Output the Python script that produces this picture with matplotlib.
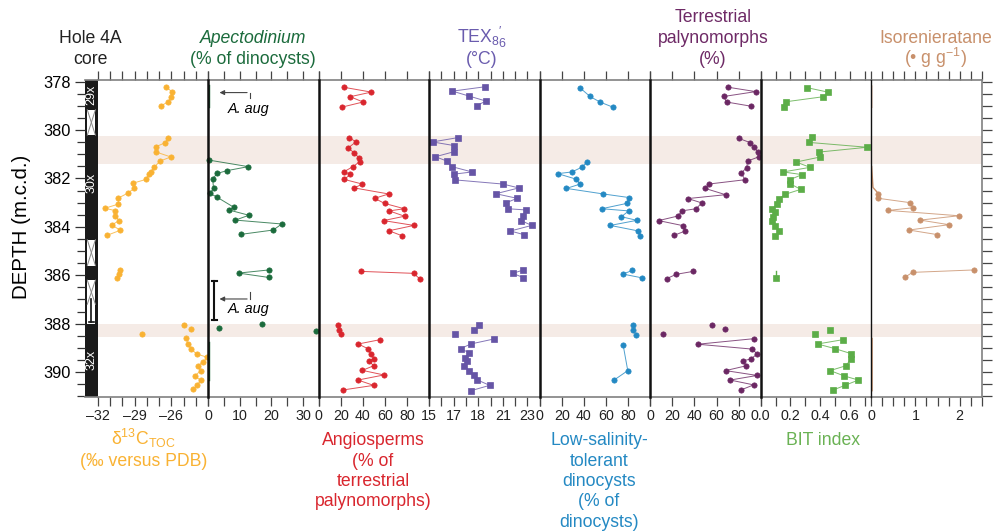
import numpy as np
import matplotlib
matplotlib.use('Agg')
import matplotlib.pyplot as plt
from matplotlib.patches import Rectangle

plt.rcParams['font.family'] = ['Liberation Sans', 'DejaVu Sans']
plt.rcParams['mathtext.fontset'] = 'custom'
plt.rcParams['mathtext.rm'] = 'Liberation Sans'
plt.rcParams['mathtext.it'] = 'Liberation Sans:italic'
plt.rcParams['mathtext.default'] = 'regular'

nan = np.nan

### Data (depth in m.c.d., nan breaks the line between sample groups)
d13c_depth = [378.23, 378.41, 378.62, 378.83, 379.00, nan,
              380.31, 380.52, 380.69, 380.91, 381.11, 381.28, 381.54, 381.72, 381.82, 382.04, 382.20,
              382.41, 382.61, 382.81, 383.06, 383.23, 383.33, 383.55, 383.74, 383.92, 384.14, 384.35, nan,
              385.80, 385.96, 386.13, nan,
              388.06, nan, 388.22, nan, 388.44, nan,
              388.61, 388.84, 389.05, 389.25, 389.39, 389.57, 389.74, 389.96, 390.15, 390.34, 390.53, 390.71]
d13c_value = [-26.40, -25.97, -26.00, -26.24, -26.86, nan,
              -26.24, -26.49, -27.27, -27.22, -26.05, -26.92, -27.41, -27.68, -27.81, -28.08, -29.16,
              -29.03, -29.57, -30.32, -30.32, -31.41, -30.57, -30.57, -30.24, -30.86, -30.16, -31.24, nan,
              -30.19, -30.30, -30.43, nan,
              -24.97, nan, -24.43, nan, -28.41, nan,
              -24.78, -24.65, -24.38, -23.95, -23.08, -23.41, -23.84, -23.62, -24.11, -23.62, -23.89, -24.22]

apect_depth = [381.24, 381.51, 381.68, 381.79, 382.01, 382.41, 382.61, 382.78, 383.19, 383.30, 383.52,
               383.72, 383.88, 384.13, 384.31, nan,
               385.78, 385.91, 386.09, nan,
               388.03, nan, 388.19, nan, 388.32]
apect_value = [0.2, 12.7, 5.8, 2.9, 1.4, 1.7, 0.5, 2.9, 8.1, 6.5, 12.9,
               8.6, 23.3, 20.6, 10.3, nan,
               19.2, 9.6, 19.2, nan,
               17.0, nan, 3.5, nan, 34.2]
apect_zero_depth = [378.14, 379.03, nan, 388.74, 390.33]
apect_zero_value = [0.3, 0.3, nan, 0.3, 0.3]

angio_depth = [378.23, 378.43, 378.62, 378.84, 379.05, nan,
               380.31, 380.49, 380.73, 380.93, 381.14, 381.31, 381.51, 381.72, 381.83, 382.04, 382.23,
               382.39, 382.64, 382.82, 383.03, 383.25, 383.34, 383.56, 383.74, 383.94, 384.16, 384.36, nan,
               385.84, 385.92, 386.14, nan,
               388.06, nan, 388.25, nan, 388.44, nan,
               388.66, 388.84, 389.03, 389.25, 389.45, 389.54, 389.74, 389.93, 390.12, 390.33, 390.55, 390.74]
angio_value = [22.6, 47.6, 28.6, 40.1, 21.1, nan,
               27.7, 33.7, 26.8, 31.6, 36.4, 37.0, 31.0, 22.9, 28.6, 23.2, 39.5,
               32.2, 63.3, 50.6, 59.6, 77.4, 63.9, 77.7, 58.7, 86.1, 63.6, 75.0, nan,
               38.6, 85.8, 91.3, nan,
               17.5, nan, 18.7, nan, 20.2, nan,
               55.7, 35.8, 44.3, 47.3, 50.0, 45.5, 49.7, 39.5, 59.0, 35.5, 49.7, 22.0]

tex_depth = [378.21, 378.39, 378.59, 378.80, 378.99, nan,
             380.31, 380.49, 380.64, 380.89, 381.10, 381.29, 381.51, 381.73, 381.82, 382.06, 382.23,
             382.39, 382.63, 382.82, 383.01, 383.25, 383.30, 383.54, 383.74, 383.94, 384.17, 384.32, nan,
             385.78, 385.92, 386.10, nan,
             388.04, nan, 388.25, nan, 388.41, nan,
             388.63, 388.84, 389.03, 389.21, 389.40, 389.54, 389.74, 389.94, 390.14, 390.31, 390.55, 390.77]
tex_value = [19.54, 16.89, 18.22, 19.62, 18.86, nan,
             17.35, 15.27, 17.03, 17.05, 15.51, 16.49, 16.84, 18.49, 17.03, 17.14, 21.00,
             22.30, 20.43, 22.16, 21.24, 21.41, 22.86, 22.65, 22.49, 23.35, 21.62, 22.70, nan,
             22.68, 21.81, 22.68, nan,
             19.03, nan, 18.65, nan, 17.14, nan,
             20.30, 18.38, 17.57, 18.27, 17.89, 18.08, 17.86, 18.22, 18.68, 18.86, 19.92, 18.40]

lowsal_depth = [378.25, 378.61, 378.84, 379.05, nan,
                381.32, 381.54, 381.73, 381.80, 382.02, 382.23, 382.41, 382.64, 382.79, 383.03, 383.25,
                383.34, 383.58, 383.73, 383.94, 384.17, 384.36, nan,
                385.80, 385.95, 386.11, nan,
                388.06, nan, 388.26, nan, 388.45, nan,
                388.88, 389.94, 390.33]
lowsal_value = [36.4, 45.5, 54.5, 66.1, nan,
                42.7, 37.9, 29.1, 16.4, 32.4, 36.7, 24.2, 57.6, 81.2, 78.8, 56.1,
                80.6, 73.9, 87.9, 63.9, 89.4, 91.2, nan,
                83.9, 75.2, 93.0, nan,
                84.5, nan, 84.5, nan, 87.0, nan,
                75.5, 79.7, 67.3]

terr_depth = [378.23, 378.41, 378.61, 378.84, 379.01, nan,
              380.34, 380.52, 380.71, 380.89, 381.10, 381.28, 381.55, 381.79, 382.05, 382.23, 382.41,
              382.67, 382.83, 383.01, 383.25, 383.34, 383.55, 383.74, 383.95, 384.17, 384.35, nan,
              385.84, 385.96, 386.14, nan,
              388.07, nan, 388.23, nan, 388.42, nan,
              388.62, 388.85, 389.05, 389.25, 389.46, 389.54, 389.74, 389.94, 390.14, 390.33, 390.53, 390.74]
terr_value = [70.6, 95.5, 66.7, 69.1, 90.9, nan,
              80.0, 90.6, 93.9, 97.3, 98.5, 88.2, 87.3, 82.1, 86.1, 53.0, 49.7,
              68.2, 34.2, 46.7, 41.5, 28.5, 25.2, 7.6, 29.7, 31.8, 21.5, nan,
              38.8, 23.6, 14.8, nan,
              56.1, nan, 67.9, nan, 11.2, nan,
              93.9, 43.0, 92.1, 97.0, 90.9, 83.6, 87.0, 68.2, 96.7, 72.4, 93.6, 82.1]

bit_depth = [378.25, 378.43, 378.62, 378.83, 379.03, nan,
             380.29, 380.51, 380.71, 380.91, 381.11, 381.32, 381.54, 381.73, 381.84, 382.05, 382.21,
             382.45, 382.66, 382.85, 383.06, 383.25, 383.37, 383.58, 383.74, 383.95, 384.18, 384.38, nan,
             386.13, nan,
             388.25, nan, 388.44, nan,
             388.66, 388.84, 389.03, 389.24, 389.45, 389.74, 389.94, 390.16, 390.33, 390.55, 390.74]
bit_value = [0.315, 0.453, 0.423, 0.169, 0.160, nan,
             0.347, 0.327, 0.718, 0.390, 0.403, 0.239, 0.333, 0.151, 0.279, 0.196, 0.196,
             0.270, 0.162, 0.124, 0.110, 0.077, 0.097, 0.081, 0.074, 0.097, 0.126, 0.097, nan,
             0.100, nan,
             0.464, nan, 0.369, nan,
             0.556, 0.383, 0.500, 0.610, 0.610, 0.574, 0.468, 0.563, 0.658, 0.568, 0.489]
bit_stub_depth = [385.82, 386.13]
bit_stub_value = [0.100, 0.100]

iso_depth = [382.63, 382.82, 383.00, 383.21, 383.32, 383.54, 383.72, 383.91, 384.13, 384.32, nan,
             385.78, 385.88, 386.07]
iso_value = [0.165, 0.165, 0.883, 0.943, 0.389, 1.980, 1.108, 1.760, 0.853, 1.497, nan,
             2.320, 0.936, 0.771]
iso_stub_depth = [378.18, 379.06, nan, 381.51, 382.37, 382.63, nan, 388.61, 390.77]
iso_stub_value = [0.01, 0.01, nan, 0.01, 0.04, 0.165, nan, 0.02, 0.02]

# core recovery: gaps (no core) and core labels
core_gap_top = [379.16, 384.53, 386.20]
core_gap_bottom = [380.21, 385.60, 388.00]
core_names = ['29x', '30x', '32x']
core_name_depth = [378.55, 382.20, 389.50]

band_top = [380.25, 388.00]
band_bottom = [381.40, 388.55]

### Layout
W, H = 995, 532
TOP, BOT = 80, 396.5
DEPTH_TOP, DEPTH_BOT = 377.93, 391.01
edges = [97.7 + 110.5 * i for i in range(9)]
BAND = '#f5ebe6'
GREY = '#808080'

fig = plt.figure(figsize=(W / 100, H / 100), dpi=100)


def px_ax(x0, x1):
    return fig.add_axes([x0 / W, 1 - BOT / H, (x1 - x0) / W, (BOT - TOP) / H])


def fig_lines(x, baselines, lines, color, size=12.7, style='normal'):
    for y, line in zip(baselines, lines):
        fig.text(x / W, 1 - y / H, line, color=color, fontsize=size, ha='center',
                 va='baseline', style=style)


### Core column
core = px_ax(85, edges[0])
core.set_xlim(0, 1)
core.set_ylim(DEPTH_BOT, DEPTH_TOP)
core.add_patch(Rectangle((0, DEPTH_TOP), 1, DEPTH_BOT - DEPTH_TOP, fc='#1a1a1a', ec='none'))
for i, (g0, g1) in enumerate(zip(core_gap_top, core_gap_bottom)):
    core.add_patch(Rectangle((0.18, g0), 0.64, g1 - g0, fc='white', ec='none', zorder=2))
    x_end = g1 if i < 2 else g0 + 1.0
    core.plot([0.18, 0.82], [g0, x_end], color='#888', lw=0.7, zorder=3)
    core.plot([0.82, 0.18], [g0, x_end], color='#888', lw=0.7, zorder=3)
    if i == 2:
        core.plot([0.5, 0.5], [x_end - 0.2, g1 - 0.05], color='#111', lw=1.2, zorder=3)
        core.plot([0.3, 0.7], [g1 - 0.05, g1 - 0.05], color='#111', lw=1.2, zorder=3)
for name, d in zip(core_names, core_name_depth):
    core.text(0.5, d, name, color='white', fontsize=9, rotation=90, ha='center', va='center')
core.set_xticks([])
core.set_yticks(range(378, 391, 2))
core.set_yticks(np.arange(378, 391.01, 0.5), minor=True)
core.tick_params(axis='y', which='major', direction='out', length=7.2, width=0.9,
                 color='#333', labelsize=11.8, pad=3)
core.tick_params(axis='y', which='minor', direction='out', length=5.5, width=0.9, color='#333')
for s in ['left', 'right']:
    core.spines[s].set_visible(False)
for s in ['top', 'bottom']:
    core.spines[s].set_color(GREY)
    core.spines[s].set_linewidth(1.2)

fig.text(22 / W, 1 - 227 / H, 'DEPTH (m.c.d.)', rotation=90, fontsize=14.8,
         ha='center', va='center')

### Data panels
panels = [
    (d13c_value, d13c_depth, '#f9b233', 'o', (-32, -23), list(range(-32, -22)),
     {-32: '\u201332', -29: '\u201329', -26: '\u201326'}),
    (apect_value, apect_depth, '#1b6b3c', 'o', (0, 35), list(range(0, 36, 5)),
     {0: '0', 10: '10', 20: '20', 30: '30'}),
    (angio_value, angio_depth, '#d9262e', 'o', (0, 100), list(range(0, 101, 20)),
     {0: '0', 20: '20', 40: '40', 60: '60', 80: '80'}),
    (tex_value, tex_depth, '#6655a6', 's', (15, 24), list(range(15, 25)),
     {15: '15', 17: '17', 19: '18', 21: '21', 23: '23'}),
    (lowsal_value, lowsal_depth, '#2489c3', 'o', (0, 100), list(range(0, 101, 20)),
     {0: '0', 20: '20', 40: '40', 60: '60', 80: '80'}),
    (terr_value, terr_depth, '#6b2763', 'o', (0, 100), list(range(0, 101, 20)),
     {0: '0', 20: '20', 40: '40', 60: '60', 80: '80'}),
    (bit_value, bit_depth, '#5cad48', 's', (0, 0.745), [round(0.1 * k, 1) for k in range(8)],
     {0.0: '0.0', 0.2: '0.2', 0.4: '0.4', 0.6: '0.6'}),
    (iso_value, iso_depth, '#c8906b', 'o', (0, 2.5), [0.25 * k for k in range(11)],
     {0: '0', 1: '1', 2: '2'}),
]

axes = []
for i, (vals, deps, color, marker, xlim, ticks, labels) in enumerate(panels):
    ax = px_ax(edges[i], edges[i + 1])
    axes.append(ax)
    ax.set_xlim(*xlim)
    ax.set_ylim(DEPTH_BOT, DEPTH_TOP)
    for b0, b1 in zip(band_top, band_bottom):
        ax.axhspan(b0, b1, color=BAND, lw=0, zorder=0)
    ms = 4.2 if marker == 's' else 3.8
    ax.plot(vals, deps, color=color, lw=0.7, alpha=0.8, zorder=2, clip_on=False)
    ax.plot(vals, deps, ls='none', marker=marker, ms=ms, color=color, mec=color,
            mew=0.5, zorder=3, clip_on=False)
    ax.set_xticks(ticks)
    ax.set_xticklabels([labels.get(t, '') for t in ticks])
    ax.tick_params(axis='x', which='both', top=True, bottom=True, labeltop=False,
                   direction='out', length=6.5, width=0.9, color='#444',
                   labelsize=10.3, pad=2.8, labelcolor='#222')
    ax.set_yticks([])
    for s in ['top', 'bottom']:
        ax.spines[s].set_color(GREY)
        ax.spines[s].set_linewidth(1.2)
    ax.spines['right'].set_visible(False)
    if i == 0:
        ax.spines['left'].set_visible(False)
    elif i == 7:
        ax.spines['left'].set_linewidth(1.0)
        ax.spines['left'].set_color('#111')
    else:
        ax.spines['left'].set_linewidth(1.8)
        ax.spines['left'].set_color('#111')
    ax.spines['left'].set_zorder(4)

# lines without markers
axes[1].plot(apect_zero_value, apect_zero_depth, color='#1b6b3c', lw=1.0, zorder=2)
axes[6].plot(bit_stub_value, bit_stub_depth, color='#5cad48', lw=1.0, zorder=2)
axes[7].plot(iso_stub_value, iso_stub_depth, color='#c8906b', lw=1.0, zorder=2)

# right-hand depth ticks
last = axes[7]
last.spines['right'].set_visible(True)
last.spines['right'].set_color(GREY)
last.spines['right'].set_linewidth(1.2)
last.yaxis.set_ticks_position('right')
last.set_yticks(np.arange(378, 391.01, 0.5))
last.tick_params(axis='y', direction='out', length=7.2, width=0.9, color='#444',
                 labelright=False)

# Apectodinium augustum markers
ap = axes[1]
ap.annotate('', xy=(2.7, 378.45), xytext=(13.2, 378.45),
            arrowprops=dict(arrowstyle='-|>', color='#444', lw=0.8, mutation_scale=7))
ap.plot([13.2, 13.2], [378.45, 378.67], color='#444', lw=0.8)
ap.text(12.9, 379.12, 'A. aug', style='italic', fontsize=10.4, ha='center', va='center')
ap.annotate('', xy=(2.7, 386.98), xytext=(13.2, 386.98),
            arrowprops=dict(arrowstyle='-|>', color='#444', lw=0.8, mutation_scale=7))
ap.plot([13.2, 13.2], [386.68, 386.98], color='#444', lw=0.8)
ap.text(12.9, 387.39, 'A. aug', style='italic', fontsize=10.4, ha='center', va='center')
ap.plot([1.9, 1.9], [386.24, 387.85], color='#111', lw=1.5)
ap.plot([1.1, 2.7], [386.24, 386.24], color='#111', lw=1.5)
ap.plot([1.1, 2.7], [387.85, 387.85], color='#111', lw=1.5)

### Titles
fig_lines(90, [43, 63.5], ['Hole 4A', 'core'], '#222')
fig_lines(253, [43], ['Apectodinium'], '#1b6b3c', style='italic')
fig_lines(253, [63.5], ['(% of dinocysts)'], '#1b6b3c')
fig_lines(482, [43, 63.5], ['TEX$_{8}{}_{6}^{\\prime}$', '(\u00b0C)'], '#6a5cae')
fig_lines(713, [22.5, 43, 63.5], ['Terrestrial', 'palynomorphs', '(%)'], '#6e2a66')
fig_lines(936, [43, 63.5], ['Isorenieratane', '(\u2022 g g$^{-1}$)'], '#c8906b')

bl = [445 + 20.5 * k for k in range(5)]
fig_lines(143.5, bl[:2], ['\u03b4$^{13}$C$_{TOC}$', '(\u2030 versus PDB)'], '#f9b233')
fig_lines(373, bl[:4], ['Angiosperms', '(% of', 'terrestrial', 'palynomorphs)'], '#d9262e')
fig_lines(599, bl, ['Low-salinity-', 'tolerant', 'dinocysts', '(% of', 'dinocysts)'], '#2489c3')
fig_lines(823, bl[:1], ['BIT index'], '#6ab254')

plt.savefig('out.png', dpi=100)
plt.close(fig)
